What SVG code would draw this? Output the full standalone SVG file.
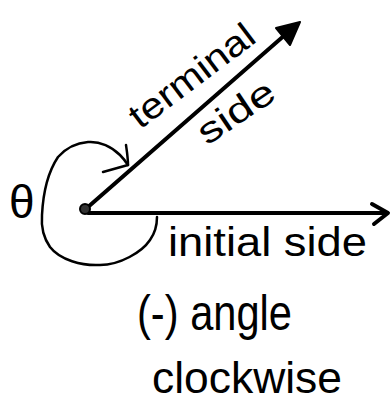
<svg xmlns="http://www.w3.org/2000/svg" width="391" height="404" viewBox="0 0 391 404">
<style>
.t{font-family:"Liberation Sans","DejaVu Sans",sans-serif;fill:#000;}
.ln{stroke:#000;fill:none;stroke-linecap:round;stroke-linejoin:round;}
</style>
<rect width="391" height="404" fill="#fff"/>
<g id="connectors">
<line class="ln" x1="88" y1="213" x2="385" y2="213" stroke-width="4"/>
<polyline class="ln" points="372,204 388,213 374,224" stroke-width="4"/>
<line class="ln" x1="88" y1="207" x2="294" y2="27" stroke-width="4"/>
<polygon points="300,22 276,28 290,45" fill="#000" stroke="#000" stroke-width="2" stroke-linejoin="round"/>
<path class="ln" stroke-width="2.5" d="M157,217 C157,226 155,233 150,240 C142,252 120,265 100,265 C82,266 60,260 50,247 C43,237 41,227 42,215 C43,195 48,172 58,157 C66,148 75,143 88,142 C100,141 112,147 120,155 C124,159 126,162 128,165"/>
<path class="ln" stroke-width="2.5" d="M126,145 C127,152 128,158 128,165 L103,172"/>
</g>
<g id="origin">
<circle cx="85" cy="209" r="5" fill="#333" stroke="#000" stroke-width="2"/>
</g>
<g id="theta">
<text class="t" x="9" y="218" font-size="46">θ</text>
</g>
<g id="terminal-label">
<text class="t" font-size="36" transform="translate(140,130) rotate(-37)" textLength="148" lengthAdjust="spacingAndGlyphs">terminal</text>
<text class="t" font-size="36" transform="translate(207,146) rotate(-34)" textLength="86" lengthAdjust="spacingAndGlyphs">side</text>
</g>
<g id="initial-label">
<text class="t" x="168" y="256" font-size="40" textLength="199" lengthAdjust="spacingAndGlyphs">initial side</text>
</g>
<g id="angle-label">
<text class="t" x="137" y="330" font-size="50" textLength="155" lengthAdjust="spacingAndGlyphs">(-) angle</text>
<text class="t" x="152" y="393" font-size="44" textLength="190" lengthAdjust="spacingAndGlyphs">clockwise</text>
</g>
</svg>
